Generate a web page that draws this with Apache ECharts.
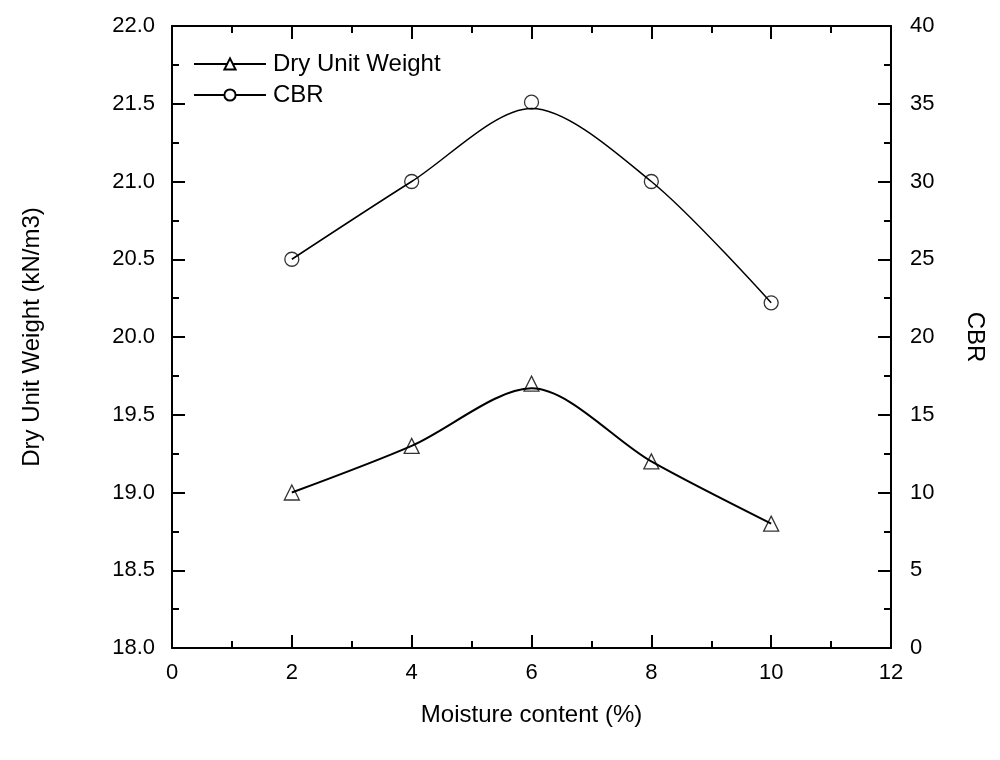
<!DOCTYPE html>
<html>
<head>
<meta charset="utf-8">
<script src="https://cdn.jsdelivr.net/npm/echarts@6/dist/echarts.min.js"></script>
<style>html,body{margin:0;padding:0;background:#fff}#chart{width:1000px;height:760px}</style>
</head>
<body>
<div id="chart"></div>
<script>
// Data
const moisture = [2, 4, 6, 8, 10];
const dryUnitWeight = [19.0, 19.3, 19.7, 19.2, 18.8];       // measured points (kN/m3)
const dryCurve = [19.0, 19.3, 19.67, 19.2, 18.8];           // fitted curve passing near points
const cbr = [25, 30, 35.1, 30, 22.2];                        // measured points
const cbrCurve = [25, 30, 34.7, 30, 22.2];                   // fitted curve
const xTicks = [0, 2, 4, 6, 8, 10, 12];
const leftTicks = ['18.0','18.5','19.0','19.5','20.0','20.5','21.0','21.5','22.0'];
const rightTicks = [0, 5, 10, 15, 20, 25, 30, 35, 40];

const FONT = '"Liberation Sans", Arial, Helvetica, sans-serif';
const pair = (xs, ys) => xs.map((x, i) => [x, ys[i]]);

const axisCommon = {
  axisLine: { show: true, onZero: false, lineStyle: { color: '#000', width: 2 } },
  axisTick: { show: true, inside: true, length: 13, lineStyle: { color: '#000', width: 2 } },
  minorTick: { show: true, splitNumber: 2, length: 7, lineStyle: { color: '#000', width: 2 } },
  splitLine: { show: false },
  minorSplitLine: { show: false }
};

const chart = echarts.init(document.getElementById('chart'), null, { renderer: 'canvas' });
chart.setOption({
  backgroundColor: '#fff',
  animation: false,
  textStyle: { fontFamily: FONT, color: '#000' },
  grid: { left: 172, right: 109, top: 26, bottom: 112, containLabel: false },
  legend: {
    left: 188, top: 47, orient: 'vertical',
    itemWidth: 72, itemHeight: 14, itemGap: 7,
    textStyle: { fontFamily: FONT, fontSize: 24, color: '#000', padding: [0, 0, 0, 2] },
    data: ['Dry Unit Weight', 'CBR']
  },
  xAxis: [
    Object.assign({
      type: 'value', min: xTicks[0], max: xTicks[xTicks.length - 1], interval: 2, position: 'bottom',
      name: 'Moisture content (%)', nameLocation: 'middle', nameGap: 55,
      nameTextStyle: { fontFamily: FONT, fontSize: 24, color: '#000' },
      axisLabel: { fontFamily: FONT, fontSize: 22, color: '#000', margin: 14 }
    }, axisCommon),
    Object.assign({
      type: 'value', min: xTicks[0], max: xTicks[xTicks.length - 1], interval: 2, position: 'top',
      axisLabel: { show: false }
    }, axisCommon)
  ],
  yAxis: [
    Object.assign({
      type: 'value', min: 18, max: 22, interval: 0.5, position: 'left',
      name: 'Dry Unit Weight (kN/m3)', nameLocation: 'middle', nameGap: 128,
      nameTextStyle: { fontFamily: FONT, fontSize: 24, color: '#000' },
      axisLabel: { fontFamily: FONT, fontSize: 22, color: '#000', margin: 17,
        formatter: v => leftTicks[Math.round((v - 18) / 0.5)] }
    }, axisCommon),
    Object.assign({
      type: 'value', min: rightTicks[0], max: rightTicks[rightTicks.length - 1], interval: 5, position: 'right',
      name: 'CBR', nameLocation: 'middle', nameGap: 72, nameRotate: -90,
      nameTextStyle: { fontFamily: FONT, fontSize: 24, color: '#000' },
      axisLabel: { fontFamily: FONT, fontSize: 22, color: '#000', margin: 19 }
    }, axisCommon)
  ],
  series: [
    {
      name: 'Dry Unit Weight', type: 'line', xAxisIndex: 0, yAxisIndex: 0,
      data: pair(moisture, dryCurve), smooth: 0.3, showSymbol: false,
      symbol: 'triangle', symbolSize: 14,
      itemStyle: { color: '#fff', borderColor: '#000', borderWidth: 1.3 },
      lineStyle: { color: '#000', width: 2 }, z: 2
    },
    {
      name: 'CBR', type: 'line', xAxisIndex: 0, yAxisIndex: 1,
      data: pair(moisture, cbrCurve), smooth: 0.3, showSymbol: false,
      symbol: 'circle', symbolSize: 14,
      itemStyle: { color: '#fff', borderColor: '#000', borderWidth: 1.3 },
      lineStyle: { color: '#000', width: 1.5 }, z: 2
    },
    {
      name: 'dryPts', type: 'scatter', xAxisIndex: 0, yAxisIndex: 0,
      data: pair(moisture, dryUnitWeight), symbol: 'triangle', symbolSize: 15,
      itemStyle: { color: 'rgba(255,255,255,0)', borderColor: '#000', borderWidth: 1.3 }, z: 3
    },
    {
      name: 'cbrPts', type: 'scatter', xAxisIndex: 0, yAxisIndex: 1,
      data: pair(moisture, cbr), symbol: 'circle', symbolSize: 14,
      itemStyle: { color: 'rgba(255,255,255,0)', borderColor: '#000', borderWidth: 1.3 }, z: 3
    }
  ]
});
</script>
</body>
</html>
